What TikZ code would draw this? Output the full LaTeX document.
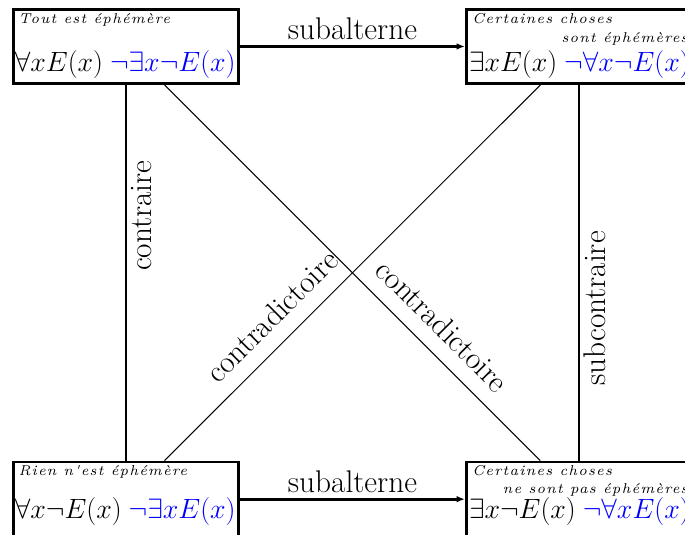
\documentclass[tikz,border=0pt]{standalone}
\usepackage{fontspec}
\usepackage{amsmath, amssymb}
\usepackage{xcolor}
\usetikzlibrary{positioning,arrows.meta}

\newfontfamily\petitfont{lmroman7-italic.otf}[LetterSpace=8]

\begin{document}
\begin{tikzpicture}[
  font=\fontsize{18.8}{22}\selectfont, >={Latex[length=5pt,width=4pt]},
  carre/.style={draw, line width=1.6pt, minimum width=4.75cm, minimum height=1.57cm, inner sep=0pt},
  petit/.style={font=\petitfont\fontsize{8.6}{10}\selectfont, inner sep=0pt, anchor=base west},
  formule/.style={font=\LARGE, inner sep=0pt, anchor=base west, scale=0.97, transform shape},
  fleche/.style={->, line width=1.6pt},
  trait/.style={line width=1.2pt},
  diag/.style={line width=0.6pt},
]
\useasboundingbox (0,0) rectangle (14.45,-11.28);

% les quatre coins du carre
\node[carre] (A) at (2.66,-0.98)   {};
\node[carre] (B) at (12.21,-0.98)  {};
\node[carre] (C) at (2.66,-10.53)  {};
\node[carre] (D) at (12.21,-10.53) {};

\node[petit] (A1) at ([xshift=0.13cm,yshift=-0.32cm]A.north west) {Tout est éphémère};
\node[formule] (A2) at ([xshift=0.05cm,yshift=-1.34cm]A.north west) {$\forall x E(x)$\hspace{0.25em}\textcolor{blue}{$\neg\exists x\neg E(x)$}};

\node[petit] (B1) at ([xshift=0.15cm,yshift=-0.33cm]B.north west) {Certaines choses};
\node[petit, anchor=base east] (B2) at ([xshift=-0.1cm,yshift=-0.74cm]B.north east) {sont éphémères};
\node[formule] (B3) at ([xshift=0.08cm,yshift=-1.34cm]B.north west) {$\exists x E(x)$\hspace{0.25em}\textcolor{blue}{$\neg\forall x\neg E(x)$}};

\node[petit] (C1) at ([xshift=0.13cm,yshift=-0.31cm]C.north west) {Rien n'est éphémère};
\node[formule] (C2) at ([xshift=0.05cm,yshift=-1.22cm]C.north west) {$\forall x\neg E(x)$\hspace{0.25em}\textcolor{blue}{$\neg\exists x E(x)$}};

\node[petit] (D1) at ([xshift=0.15cm,yshift=-0.32cm]D.north west) {Certaines choses};
\node[petit, anchor=base east] (D2) at ([xshift=-0.1cm,yshift=-0.70cm]D.north east) {ne sont pas éphémères};
\node[formule] (D3) at ([xshift=0.08cm,yshift=-1.22cm]D.north west) {$\exists x\neg E(x)$\hspace{0.25em}\textcolor{blue}{$\neg\forall x E(x)$}};

% relations
\draw[fleche] (A) -- node[above] (sub1) {subalterne} (B);
\draw[fleche] (C) -- node[above] (sub2) {subalterne} (D);
\draw[trait] (A) -- node[pos=0.348, rotate=90, anchor=north, inner sep=2.5pt] (contr) {contraire} (C);
\draw[trait] (B) -- node[pos=0.595, rotate=90, anchor=north, inner sep=2.5pt] (subc) {subcontraire} (D);
\draw[diag] (C) -- node[pos=0.335, sloped, above, inner sep=9pt] (cd1) {contradictoire} (B);
\draw[diag] (A) -- node[pos=0.69, sloped, above, inner sep=9pt] (cd2) {contradictoire} (D);
\end{tikzpicture}
\end{document}
